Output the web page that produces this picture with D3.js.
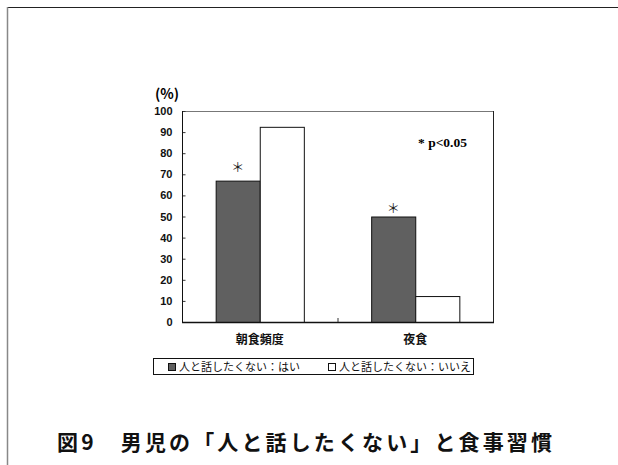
<!DOCTYPE html>
<meta charset="utf-8">
<script src="https://d3js.org/d3.v7.min.js"></script>
<style>
  body { margin: 0; background: #fff; }
  .sans { font-family: "Liberation Sans", Arial, sans-serif; }
  .jp { font-family: "Noto Sans CJK JP", sans-serif; }
  .serif { font-family: "Liberation Serif", "Times New Roman", serif; }
</style>
<div id="chart"></div>
<script>
  // data
  var categories = ["朝食頻度", "夜食"];
  var seriesNames = ["人と話したくない：はい", "人と話したくない：いいえ"];
  var valuesYes = [67, 50];
  var valuesNo = [92.5, 12.3];
  var starLevel = [73.5, 54];   // where the * marks sit (in % units)
  var yTicks = [0, 10, 20, 30, 40, 50, 60, 70, 80, 90, 100];
  var colors = ["#606060", "#ffffff"];

  var W = 618, H = 465;
  var plot = {left: 182, right: 493, top: 111, bottom: 322};

  var svg = d3.select("#chart").append("svg")
    .attr("width", W).attr("height", H);

  // outer frame (page border)
  svg.append("line").attr("x1", 7).attr("x2", W).attr("y1", 7.5).attr("y2", 7.5)
    .attr("stroke", "#222").attr("stroke-width", 1);
  svg.append("line").attr("x1", 7.5).attr("x2", 7.5).attr("y1", 7).attr("y2", H)
    .attr("stroke", "#888").attr("stroke-width", 1.5);

  var x0 = d3.scaleBand()
    .domain(categories)
    .range([plot.left, plot.right])
    .paddingInner(0.433)
    .paddingOuter(0.2165);

  var x1 = d3.scaleBand()
    .domain([0, 1])
    .range([0, x0.bandwidth()]);

  var y = d3.scaleLinear()
    .domain([0, 100])
    .range([plot.bottom, plot.top]);

  // plot area border
  svg.append("rect")
    .attr("x", plot.left + 0.5).attr("y", plot.top + 0.5)
    .attr("width", plot.right - plot.left).attr("height", plot.bottom - plot.top)
    .attr("fill", "none").attr("stroke", "#777");
  svg.append("line").attr("x1", plot.right + 0.5).attr("x2", plot.right + 0.5)
    .attr("y1", plot.top).attr("y2", plot.bottom).attr("stroke", "#222");

  // y axis, ticks pointing inward
  var yAxis = svg.append("g")
    .attr("transform", "translate(" + (plot.left + 0.5) + ",0)")
    .call(d3.axisLeft(y).tickValues(yTicks).tickSize(-3).tickPadding(10));
  yAxis.select(".domain").remove();
  yAxis.selectAll("line").attr("stroke", "#333");
  yAxis.selectAll("text")
    .attr("class", "sans")
    .attr("font-size", 11).attr("font-weight", "bold")
    .attr("fill", "#111");
  svg.append("line").attr("x1", plot.left + 0.5).attr("x2", plot.left + 0.5)
    .attr("y1", plot.top).attr("y2", plot.bottom).attr("stroke", "#111");

  // bars
  var rows = categories.map(function (c, i) {
    return {cat: c, vals: [valuesYes[i], valuesNo[i]], star: starLevel[i]};
  });

  var groups = svg.append("g").selectAll("g")
    .data(rows).enter().append("g")
    .attr("transform", function (d) { return "translate(" + x0(d.cat) + ",0)"; });

  groups.selectAll("rect")
    .data(function (d) { return d.vals; })
    .enter().append("rect")
      .attr("x", function (d, i) { return x1(i) + 0.5; })
      .attr("y", function (d) { return y(d) + 0.5; })
      .attr("width", x1.bandwidth())
      .attr("height", function (d) { return y(0) - y(d); })
      .attr("fill", function (d, i) { return colors[i]; })
      .attr("stroke", "#111")
      .attr("stroke-width", 1);

  // significance marks over the "yes" bars
  groups.append("text")
    .attr("class", "jp")
    .attr("x", x1(0) + x1.bandwidth() / 2)
    .attr("y", function (d) { return y(d.star) + 5; })
    .attr("text-anchor", "middle")
    .attr("font-size", 13)
    .attr("fill", "#222")
    .text("＊");

  // x axis baseline + middle tick
  svg.append("line").attr("x1", plot.left).attr("x2", plot.right + 1)
    .attr("y1", plot.bottom + 0.5).attr("y2", plot.bottom + 0.5)
    .attr("stroke", "#111").attr("stroke-width", 1.6);
  svg.append("line")
    .attr("x1", x0.step() + plot.left + 0.5).attr("x2", x0.step() + plot.left + 0.5)
    .attr("y1", plot.bottom).attr("y2", plot.bottom - 4)
    .attr("stroke", "#333");

  svg.append("g").selectAll("text")
    .data(categories).enter().append("text")
      .attr("class", "jp")
      .attr("x", function (d) { return x0(d) + x0.bandwidth() / 2; })
      .attr("y", 344)
      .attr("text-anchor", "middle")
      .attr("font-size", 12).attr("font-weight", "bold")
      .attr("fill", "#111")
      .text(function (d) { return d; });

  // unit label
  svg.append("text").attr("class", "jp")
    .attr("x", 167).attr("y", 99)
    .attr("text-anchor", "middle")
    .attr("font-size", 14).attr("font-weight", "bold")
    .text("(%)");

  // p-value note
  svg.append("text").attr("class", "serif")
    .attr("x", 418).attr("y", 147)
    .attr("font-size", 13.5).attr("font-weight", "bold")
    .text("* p<0.05");

  // legend
  svg.append("rect").attr("x", 153.5).attr("y", 358.5)
    .attr("width", 320).attr("height", 16)
    .attr("fill", "none").attr("stroke", "#111");
  var legendX = [168, 328];
  var leg = svg.append("g").selectAll("g")
    .data(seriesNames).enter().append("g")
    .attr("transform", function (d, i) { return "translate(" + legendX[i] + ",0)"; });
  leg.append("rect")
    .attr("x", 0.5).attr("y", 363.5).attr("width", 7).attr("height", 7)
    .attr("fill", function (d, i) { return colors[i]; })
    .attr("stroke", "#111");
  leg.append("text").attr("class", "jp")
    .attr("x", 11).attr("y", 371)
    .attr("font-size", 11)
    .attr("fill", "#111")
    .text(function (d) { return d; });

  // caption
  svg.append("text").attr("class", "jp")
    .attr("x", 57).attr("y", 450)
    .attr("font-size", 21).attr("font-weight", "bold")
    .attr("textLength", 495).attr("lengthAdjust", "spacing")
    .attr("fill", "#111")
    .text("図9　男児の「人と話したくない」と食事習慣");
</script>
